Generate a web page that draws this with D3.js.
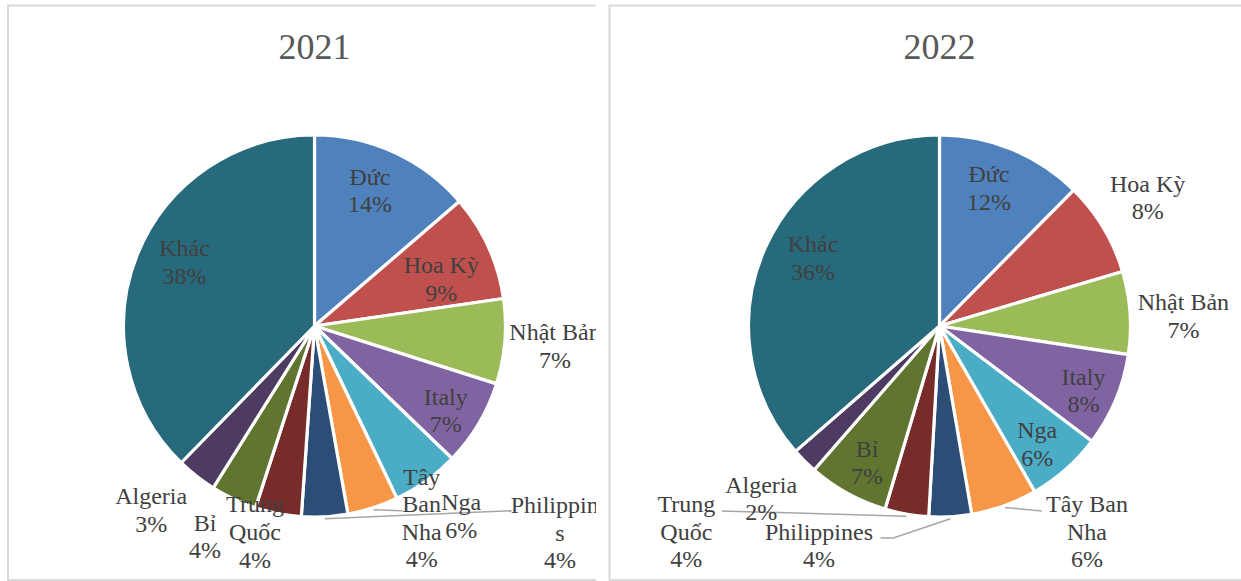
<!DOCTYPE html>
<html>
<head>
<meta charset="utf-8">
<script src="https://cdn.jsdelivr.net/npm/d3@7"></script>
<style>
  body { margin: 0; background: #fff; }
  svg { display: block; font-family: "Liberation Serif", "Times New Roman", serif; }
</style>
</head>
<body>
<div id="container"></div>
<script>
const width = 1241,
      height = 581;

// data
const categories = ["Đức", "Hoa Kỳ", "Nhật Bản", "Italy", "Nga", "Tây Ban Nha",
                    "Philippines", "Trung Quốc", "Bỉ", "Algeria", "Khác"];
const values2021 = [13.7, 9.0, 7.2, 7.3, 5.7, 4.3, 3.9, 3.9, 3.9, 3.4, 37.7];
const values2022 = [12.4, 8.0, 7.0, 7.9, 6.4, 5.6, 3.6, 3.7, 6.8, 2.2, 36.4];
const colors = ["#4f81bd", "#c0504d", "#9bbb59", "#8064a2", "#4bacc6", "#f79646",
                "#2c4d75", "#772c2a", "#5f7530", "#4d3b62", "#276a7c"];

// label layout: block centre relative to pie centre, optional wrapped lines, leader points
const layout2021 = [
    {at: [55.5, -135.5]},
    {at: [126.8, -47.3]},
    {at: [240.5, 20]},
    {at: [131.3, 84.5]},
    {at: [146.7, 189.8]},
    {at: [107.2, 192], lines: ["Tây", "Ban", "Nha"], leader: [[87.9, 184.7]]},
    {at: [245.5, 206.8], lines: ["Philippine", "s"], leader: [[197, 184.7]]},
    {at: [-59.5, 206], lines: ["Trung", "Quốc"]},
    {at: [-109.5, 210.3]},
    {at: [-163.3, 184.2]},
    {at: [-130, -64]}
];
const layout2022 = [
    {at: [49.5, -138]},
    {at: [208.2, -128.5]},
    {at: [243.9, -10]},
    {at: [143.9, 64.5]},
    {at: [97.7, 118]},
    {at: [147.5, 205.7], lines: ["Tây Ban", "Nha"], leader: [[102.3, 185]]},
    {at: [-120.5, 219.5], leader: [[-46.2, 212], [-58.9, 212]]},
    {at: [-253.2, 205.7], lines: ["Trung", "Quốc"], leader: [[-217.5, 185]]},
    {at: [-72.5, 136.5]},
    {at: [-178.3, 172.5]},
    {at: [-126.5, -68]}
];

const radius = 191,
      lineH = 27.6,
      fontSize = 24;

var svg = d3.select("#container").append("svg")
    .attr("width", width)
    .attr("height", height);

var defs = svg.append("defs");

var panels = [
    {title: "2021", values: values2021, layout: layout2021, box: [8, 5.5, 596, 580], cx: 314.5, cy: 326},
    {title: "2022", values: values2022, layout: layout2022, box: [609.5, 5.5, 1250, 580], cx: 939.5, cy: 326}
];

var pie = d3.pie().sort(null).value(function(d) { return d; });
var arc = d3.arc().innerRadius(0).outerRadius(radius);

panels.forEach(function(p, pi) {
    var b = p.box;
    defs.append("clipPath").attr("id", "clip" + pi)
        .append("rect")
        .attr("x", b[0]).attr("y", b[1])
        .attr("width", b[2] - b[0]).attr("height", b[3] - b[1]);

    // frame
    svg.append("path")
        .attr("d", `M${b[2]},${b[1]} H${b[0]} V${b[3]} H${b[2]}`)
        .attr("fill", "none")
        .attr("stroke", "#d9d9d9")
        .attr("stroke-width", 2);

    var g = svg.append("g").attr("clip-path", `url(#clip${pi})`);

    g.append("text")
        .attr("x", p.cx)
        .attr("y", 59)
        .attr("text-anchor", "middle")
        .attr("fill", "#595959")
        .style("font-size", "36px")
        .text(p.title);

    var arcs = pie(p.values);
    var total = d3.sum(p.values);

    var pieG = g.append("g").attr("transform", `translate(${p.cx}, ${p.cy})`);

    pieG.selectAll("path.slice")
        .data(arcs)
        .enter()
        .append("path")
        .attr("class", "slice")
        .attr("d", arc)
        .attr("fill", function(d, i) { return colors[i]; })
        .attr("stroke", "#fff")
        .attr("stroke-width", 3.2)
        .attr("stroke-linejoin", "round");

    // leader lines
    arcs.forEach(function(d, i) {
        var lay = p.layout[i];
        if (!lay.leader) return;
        var mid = (d.startAngle + d.endAngle) / 2;
        var pts = [[Math.sin(mid) * (radius + 2), -Math.cos(mid) * (radius + 2)]].concat(lay.leader);
        pieG.append("path")
            .attr("d", d3.line()(pts))
            .attr("fill", "none")
            .attr("stroke", "#a6a6a6")
            .attr("stroke-width", 1.5);
    });

    // labels
    arcs.forEach(function(d, i) {
        var lay = p.layout[i];
        var lines = (lay.lines || [categories[i]]).concat([d3.format(".0%")(d.value / total)]);
        var top = lay.at[1] - (lines.length - 1) * lineH / 2;
        var t = pieG.append("text")
            .attr("text-anchor", "middle")
            .attr("fill", "#404040")
            .style("font-size", fontSize + "px");
        lines.forEach(function(s, k) {
            t.append("tspan")
                .attr("x", lay.at[0])
                .attr("y", top + k * lineH + 8)
                .text(s);
        });
    });
});
</script>
</body>
</html>
